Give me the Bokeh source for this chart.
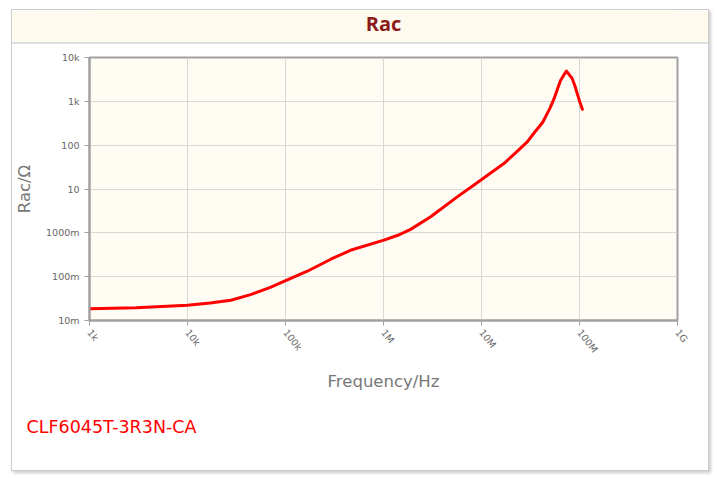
import math
from bokeh.plotting import figure
from bokeh.models import FixedTicker, Title, ColumnDataSource, Range1d
from bokeh.layouts import column
from bokeh.core.properties import value
from bokeh.embed import file_html
from bokeh.resources import INLINE

# data
freq = [1e3, 3e3, 1e4, 1.7e4, 2.77e4, 4.4e4, 7e4, 9.9e4, 1.67e5, 2.9e5, 4.6e5,
        1.01e6, 1.4e6, 1.89e6, 3.03e6, 5.66e6, 9.8e6, 1.69e7, 2.4e7, 2.93e7, 3.5e7,
        4.2e7, 5.0e7, 5.5e7, 6.0e7, 6.4e7, 6.85e7, 7.36e7, 7.8e7, 8.4e7, 8.95e7,
        9.5e7, 1.01e8, 1.07e8]
rac = [0.0185, 0.0195, 0.0223, 0.025, 0.029, 0.039, 0.057, 0.08, 0.133, 0.25, 0.40,
       0.68, 0.88, 1.2, 2.32, 6.6, 15.9, 38, 78, 119, 200,
       330, 700, 1150, 2000, 3000, 3850, 4900, 4150, 3350, 2300,
       1480, 950, 660]

x_ticks = [1e3, 1e4, 1e5, 1e6, 1e7, 1e8, 1e9]
x_labels = ["1k", "10k", "100k", "1M", "10M", "100M", "1G"]
y_ticks = [0.01, 0.1, 1, 10, 100, 1000, 10000]
y_labels = ["10m", "100m", "1000m", "10", "100", "1k", "10k"]

title_text = "Rac"
part_name = "CLF6045T-3R3N-CA"

W = 696

# title band
t = figure(width=W, height=34, x_range=Range1d(0, 1), y_range=Range1d(0, 1),
           output_backend="svg", toolbar_location=None,
           min_border=0, background_fill_color="#fffaee", border_fill_color="#fffaee",
           outline_line_color=None)
t.axis.visible = False
t.grid.visible = False
t.text(x=[0.5], y=[0.62], text=[title_text], text_align="center", text_baseline="middle",
       text_font=value("Open Sans"), text_font_style="bold", text_font_size="20px",
       text_color="#8b1a1a")
t.styles = {"border-bottom": "2px solid #dddddd"}

# main chart
p = figure(width=W, height=426, x_axis_type="log", y_axis_type="log",
           x_range=Range1d(1e3, 1e9), y_range=Range1d(0.01, 10000),
           output_backend="svg", toolbar_location=None,
           min_border_left=77, min_border_right=31, min_border_top=13, min_border_bottom=150,
           background_fill_color="#fffcf4", border_fill_color="white",
           outline_line_color="#a0a0a0", outline_line_width=2)

src = ColumnDataSource(dict(f=freq, r=rac))
p.line("f", "r", source=src, line_color="#ff0000", line_width=3, line_join="round",
       line_cap="round")

p.xaxis.ticker = FixedTicker(ticks=x_ticks)
p.yaxis.ticker = FixedTicker(ticks=y_ticks)
p.xaxis.major_label_overrides = {k: v for k, v in zip(x_ticks, x_labels)}
p.yaxis.major_label_overrides = {k: v for k, v in zip(y_ticks, y_labels)}
p.xaxis.major_label_orientation = -0.9

for ax in (p.xaxis[0], p.yaxis[0]):
    ax.axis_line_color = "#a0a0a0"
    ax.axis_line_width = 2
    ax.major_tick_line_color = "#a0a0a0"
    ax.major_tick_out = 5
    ax.major_tick_in = 0
    ax.minor_tick_line_color = None
    ax.major_label_text_font = "DejaVu Sans"
    ax.major_label_text_font_size = "9.5px"
    ax.major_label_text_color = "#666666"
    ax.axis_label_text_font = "DejaVu Sans"
    ax.axis_label_text_font_style = "normal"
    ax.axis_label_text_font_size = "16.5px"
    ax.axis_label_text_color = "#777777"

p.xaxis.axis_label = "Frequency/Hz"
p.yaxis.axis_label = "Rac/\u03a9"
p.xaxis.axis_label_standoff = 11
p.yaxis.axis_label_standoff = 9

p.grid.grid_line_color = "#d8d8d8"
p.grid.grid_line_width = 1

p.add_layout(Title(text=part_name, align="left", offset=-63, text_color="#ff0000",
                   text_font="DejaVu Sans", text_font_style="normal",
                   text_font_size="17.5px", standoff=42), "below")

layout = column(t, p, spacing=0)
layout.styles = {"border": "1px solid #cccccc", "box-shadow": "2px 2px 3px #cccccc",
                 "margin-left": "11px", "margin-top": "9px"}

open("out.html", "w").write(file_html(layout, INLINE))
